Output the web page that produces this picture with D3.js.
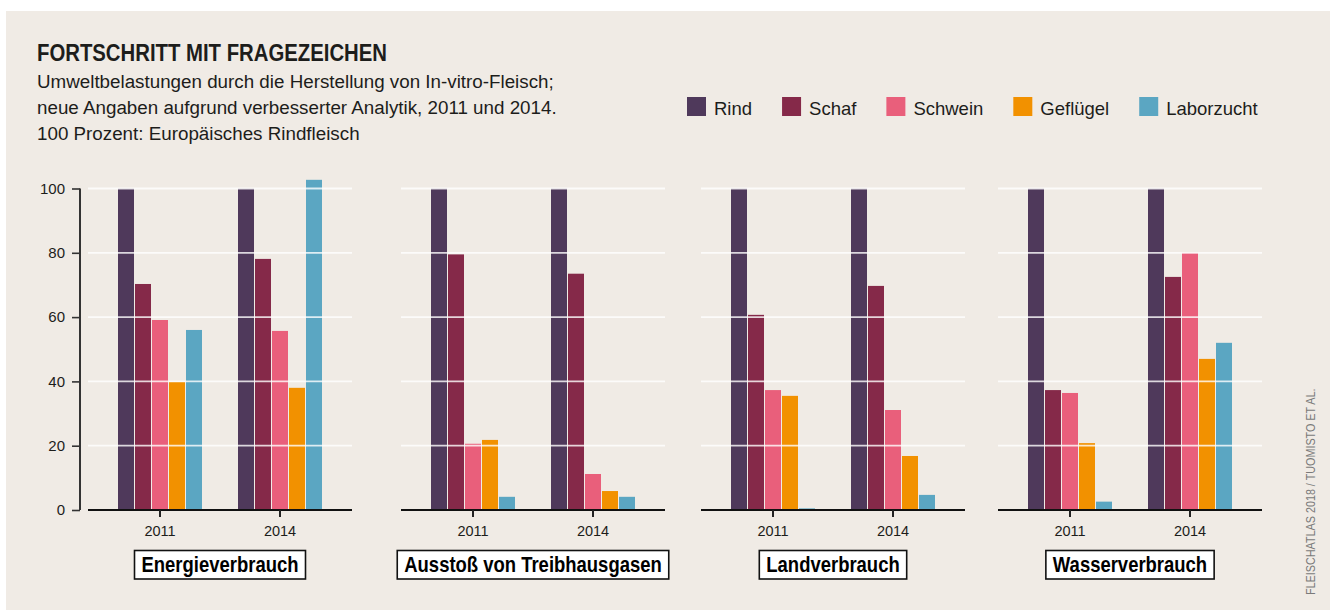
<!DOCTYPE html>
<html lang="de">
<head>
<meta charset="utf-8">
<script src="https://cdn.jsdelivr.net/npm/d3@7"></script>
<style>
  html, body { margin: 0; padding: 0; background: #ffffff; }
  svg { display: block; }
  .sans { font-family: "Liberation Sans", Arial, sans-serif; }
</style>
</head>
<body>
<svg id="chart" width="1330" height="610"></svg>
<script>
// ---- data ----
const categories = ["Energieverbrauch", "Ausstoß von Treibhausgasen", "Landverbrauch", "Wasserverbrauch"];
const years = ["2011", "2014"];
const seriesNames = ["Rind", "Schaf", "Schwein", "Geflügel", "Laborzucht"];
const seriesColors = ["#4f395b", "#852949", "#e95f7b", "#f29100", "#5ba6c2"];

// percent of European beef (Rind = 100)
const energie2011    = [100, 70.3, 59.1, 39.8, 56.0];
const energie2014    = [100, 78.1, 55.7, 38.0, 102.7];
const treibhaus2011  = [100, 79.5, 20.6, 21.8, 4.1];
const treibhaus2014  = [100, 73.5, 11.2, 5.9, 4.1];
const land2011       = [100, 60.7, 37.3, 35.5, 0.5];
const land2014       = [100, 69.7, 31.1, 16.8, 4.7];
const wasser2011     = [100, 37.3, 36.4, 20.8, 2.6];
const wasser2014     = [100, 72.5, 80.0, 47.0, 52.0];
const yTicks = [0, 20, 40, 60, 80, 100];

const panelValues = [
  [energie2011, energie2014],
  [treibhaus2011, treibhaus2014],
  [land2011, land2014],
  [wasser2011, wasser2014]
];

// ---- layout ----
const svg = d3.select("#chart");
const ink = "#1d1d1b";
const panelLeft = [88, 401, 701, 998];
const panelWidth = 264;
const baseY = 510, topY = 188.5;
const condense = 0.83;   // horizontal squeeze for the condensed headline face

svg.append("rect").attr("x", 6).attr("y", 11).attr("width", 1324).attr("height", 599)
  .attr("fill", "#f0ebe5");

// ---- header ----
svg.append("g").attr("transform", `translate(37,61) scale(${condense},1)`)
  .append("text").attr("class", "sans")
  .attr("font-size", 24.5).attr("font-weight", "bold").attr("fill", ink)
  .text("FORTSCHRITT MIT FRAGEZEICHEN");

const subLines = [
  "Umweltbelastungen durch die Herstellung von In-vitro-Fleisch;",
  "neue Angaben aufgrund verbesserter Analytik, 2011 und 2014.",
  "100 Prozent: Europäisches Rindfleisch"
];
svg.append("g").selectAll("text").data(subLines).join("text")
  .attr("class", "sans").attr("x", 37).attr("y", (d, i) => 88 + i * 26)
  .attr("font-size", 18.8).attr("fill", ink).text(d => d);

// ---- legend ----
const legend = svg.append("g").attr("class", "legend");
let lx = 687;
seriesNames.forEach((name, i) => {
  const g = legend.append("g").attr("transform", `translate(${lx},97)`);
  g.append("rect").attr("width", 19).attr("height", 19).attr("fill", seriesColors[i]);
  const t = g.append("text").attr("class", "sans").attr("x", 27).attr("y", 17.5)
    .attr("font-size", 18.5).attr("fill", ink).text(name);
  lx += 27 + t.node().getComputedTextLength() + 30;
});

// ---- scales ----
const y = d3.scaleLinear().domain([0, 100]).range([baseY, topY]);
const x0 = d3.scaleBand().domain(years).range([0, panelWidth])
  .paddingInner(0.3).paddingOuter(0.25);
const x1 = d3.scaleBand().domain(seriesNames).range([0, x0.bandwidth()])
  .paddingInner(1 / 17).paddingOuter(0);
const color = d3.scaleOrdinal().domain(seriesNames).range(seriesColors);

// ---- y axis (first panel only) ----
const yAxis = svg.append("g").attr("transform", "translate(80,0)")
  .call(d3.axisLeft(y).tickValues(yTicks).tickSize(8).tickPadding(7));
yAxis.select(".domain").attr("stroke", "#333").attr("stroke-width", 2)
  .attr("d", `M0,${topY}V${baseY}`);
yAxis.selectAll(".tick line").attr("stroke", "#333").attr("stroke-width", 1.6);
yAxis.selectAll(".tick text").attr("class", "sans").attr("font-size", 15)
  .attr("fill", ink);

// ---- panels ----
categories.forEach((cat, p) => {
  const g = svg.append("g").attr("transform", `translate(${panelLeft[p]},0)`);

  years.forEach((yr, k) => {
    g.append("g").attr("transform", `translate(${x0(yr)},0)`)
      .selectAll("rect").data(panelValues[p][k]).join("rect")
      .attr("x", (d, i) => x1(seriesNames[i]))
      .attr("width", x1.bandwidth())
      .attr("y", d => y(d))
      .attr("height", d => y(0) - y(d))
      .attr("fill", (d, i) => color(seriesNames[i]));
  });

  // white grid lines over the bars
  g.append("g").selectAll("line").data(yTicks.filter(v => v > 0)).join("line")
    .attr("x1", 0).attr("x2", panelWidth)
    .attr("y1", d => y(d)).attr("y2", d => y(d))
    .attr("stroke", "#ffffff").attr("stroke-opacity", 0.8).attr("stroke-width", 1.8);

  // baseline with year ticks
  const xa = g.append("g").attr("transform", `translate(0,${baseY})`)
    .call(d3.axisBottom(x0).tickSize(7).tickSizeOuter(0).tickPadding(9));
  xa.select(".domain").attr("stroke", "#111").attr("stroke-width", 2)
    .attr("d", `M0,0H${panelWidth}`);
  xa.selectAll(".tick line").attr("stroke", "#222").attr("stroke-width", 2);
  xa.selectAll(".tick text").attr("class", "sans").attr("font-size", 14.5)
    .attr("fill", ink);

  // boxed category label
  const cx = panelWidth / 2;
  const box = g.append("rect").attr("y", 550.5).attr("height", 28.5)
    .attr("fill", "#ffffff").attr("stroke", "#111").attr("stroke-width", 1.6);
  const t = g.append("g").attr("transform", `translate(${cx},572) scale(0.84,1)`)
    .append("text").attr("class", "sans")
    .attr("text-anchor", "middle").attr("font-size", 22).attr("font-weight", "bold")
    .attr("fill", "#000").text(cat);
  const w = t.node().getComputedTextLength() * 0.84;
  box.attr("x", cx - w / 2 - 7).attr("width", w + 14);
});

// ---- source ----
svg.append("g").attr("transform", "translate(1315,595) rotate(-90) scale(0.83,1)")
  .append("text").attr("class", "sans")
  .attr("font-size", 13).attr("fill", "#7a7a7a")
  .text("FLEISCHATLAS 2018 / TUOMISTO ET AL.");
</script>
</body>
</html>
